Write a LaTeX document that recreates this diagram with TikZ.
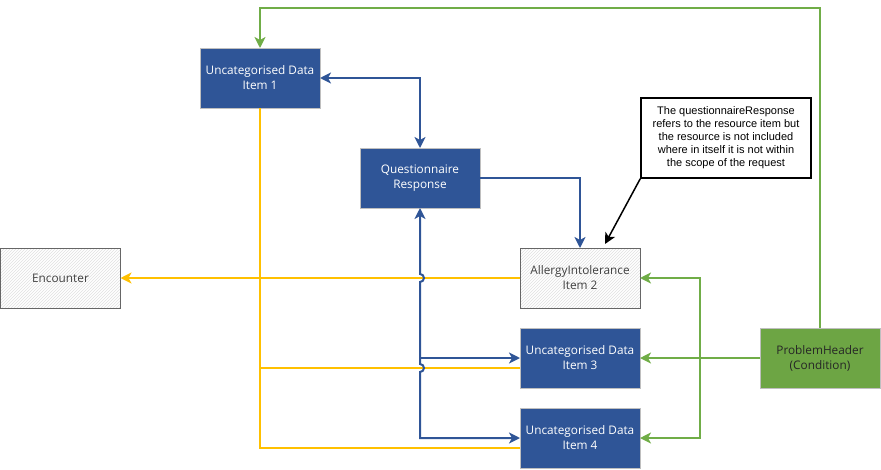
\documentclass[tikz,border=0pt]{standalone}
\usepackage{fontspec}
\setmainfont{Open Sans}
\newfontfamily\notefont{Liberation Sans}
\usetikzlibrary{arrows.meta, positioning, calc, patterns}
\definecolor{itemblue}{HTML}{2F5597}
\definecolor{probgreen}{HTML}{6DA544}
\definecolor{linegreen}{HTML}{70AD47}
\definecolor{lineyellow}{HTML}{FFC000}
\tikzset{
  databox/.style={rectangle, draw=black!25, line width=1pt, fill=itemblue, text=white,
    minimum width=120pt, minimum height=60pt, inner sep=0pt, outer sep=0pt, align=center,
    font=\fontsize{11.8}{15}\selectfont},
  hatchbox/.style={databox, draw=black!60, text=black!75, pattern=north east lines, pattern color=black!12},
  notebox/.style={rectangle, draw=black, line width=1.5pt, fill=white, minimum width=170pt,
    minimum height=80pt, inner sep=0pt, align=center, font=\notefont\fontsize{11}{13}\selectfont},
  blueline/.style={draw=itemblue, line width=2pt},
  greenline/.style={draw=linegreen, line width=2pt},
  yellowline/.style={draw=lineyellow, line width=2pt}
}
\begin{document}
\begin{tikzpicture}[x=1pt, y=-1pt, >={Stealth[length=11pt,width=11pt,inset=3pt]}]
\useasboundingbox (0,0) rectangle (881,469);
\node[databox] (item1) at (260,78) {Uncategorised Data\\Item 1};
\node[databox] (qr) at (420,178) {Questionnaire\\Response};
\node[hatchbox] (allergy) at (580,278) {AllergyIntolerance\\Item 2};
\node[hatchbox] (encounter) at (60.5,278) {Encounter};
\foreach \n/\ypos in {3/358, 4/438}
  \node[databox] (item\n) at (580,\ypos) {Uncategorised Data\\Item \n};
\node[databox, fill=probgreen, text=black!85] (problem) at (820,358) {ProblemHeader\\(Condition)};
\node[notebox] (note) at (726,138) {The questionnaireResponse\\refers to the resource item but\\the resource is not included\\where in itself it is not within\\the scope of the request};

\draw[greenline, ->] (problem.north) -- ++(0,-320) -| (item1.north);
\draw[blueline, <->] (item1.east) -| (qr.north);
\draw[blueline, ->] (qr.east) -| (allergy.north);
\draw[yellowline] (item1.south) |- ($(item4.west)+(0,10)$);
\draw[yellowline] ($(item3.west)+(0,10)$) -- ($(item1.south |- item3.west)+(0,10)$);
\draw[yellowline, ->] (allergy.west) -- (encounter.east);
\draw[blueline, <->] (qr.south) -- ($(qr.south |- allergy.west)+(0,-4)$)
  arc[start angle=270, end angle=450, radius=4]
  -- ($(qr.south |- item3.west)+(0,6)$)
  arc[start angle=270, end angle=450, radius=4]
  -- (qr.south |- item4.west) -- (item4.west);
\draw[blueline, ->] (qr.south |- item3.west) -- (item3.west);
\coordinate (gsplit) at ($(problem.west)!0.5!(item3.east)$);
\draw[greenline, ->] (problem.west) -- (item3.east);
\draw[greenline, ->] (gsplit) |- (allergy.east);
\draw[greenline, ->] (gsplit) |- (item4.east);
\coordinate (notetip) at ($(allergy.north)+(25,-4)$);
\draw[line width=1.5pt, ->] (note.south west) -- (notetip);
\end{tikzpicture}
\end{document}
